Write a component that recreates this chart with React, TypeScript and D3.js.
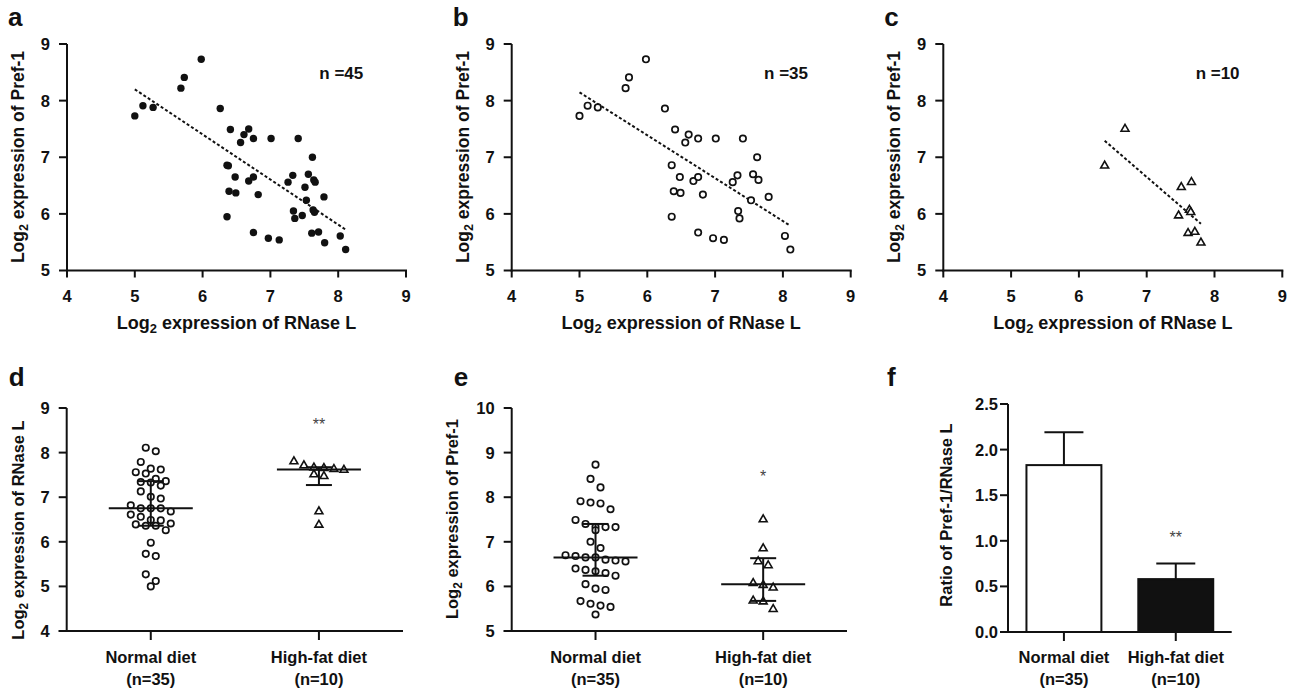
import React from 'react';
import * as d3 from 'd3';

const normRNase = [5.0, 5.12, 5.27, 5.68, 5.73, 5.98, 6.26, 6.41, 6.61, 6.56, 6.75, 7.01, 7.41, 7.62, 6.36, 6.48, 6.68, 6.75, 6.39, 6.49, 6.82, 6.36, 7.33, 7.26, 7.56, 7.64, 7.53, 7.79, 7.34, 7.36, 6.75, 6.97, 7.13, 8.03, 8.11];
const normPref = [7.73, 7.91, 7.88, 8.22, 8.41, 8.73, 7.86, 7.49, 7.40, 7.26, 7.33, 7.33, 7.33, 7.0, 6.86, 6.65, 6.58, 6.65, 6.40, 6.37, 6.34, 5.95, 6.68, 6.56, 6.70, 6.60, 6.24, 6.30, 6.05, 5.92, 5.67, 5.57, 5.54, 5.61, 5.37];
const hfRNase = [6.38, 6.68, 7.51, 7.66, 7.47, 7.63, 7.65, 7.61, 7.71, 7.80];
const hfPref = [6.85, 7.50, 6.47, 6.56, 5.97, 6.07, 6.03, 5.66, 5.68, 5.49];

const groups = ['Normal diet', 'High-fat diet'];
const groupN = ['(n=35)', '(n=10)'];
const ratioMean = [1.83, 0.58];
const ratioErr = [0.36, 0.17];

const scatterXTicks = [4, 5, 6, 7, 8, 9];
const scatterYTicks = [5, 6, 7, 8, 9];
const dTicks = [4, 5, 6, 7, 8, 9];
const eTicks = [5, 6, 7, 8, 9, 10];
const fTicks = [0, 0.5, 1.0, 1.5, 2.0, 2.5];
const sigText = ['**', '*', '**'];
const sigValue = [8.7, 8.55, 1.07];

const FONT = 'Liberation Sans, Arial, Helvetica, sans-serif';
const INK = '#111';

type Pt = { x: number; y: number };

function zipPts(xs: number[], ys: number[]): Pt[] {
  return xs.map((x, i) => ({ x, y: ys[i] }));
}

// quartiles the way Prism does them: position (n+1)p
function prismQ(vals: number[], p: number) {
  const s = [...vals].sort((a, b) => a - b);
  const n = s.length;
  const h = (n + 1) * p;
  if (h <= 1) return s[0];
  if (h >= n) return s[n - 1];
  const lo = Math.floor(h);
  return s[lo - 1] + (h - lo) * (s[lo] - s[lo - 1]);
}

function fitLine(pts: Pt[]) {
  const mx = d3.mean(pts, (d) => d.x)!;
  const my = d3.mean(pts, (d) => d.y)!;
  const sxy = d3.sum(pts, (d) => (d.x - mx) * (d.y - my));
  const sxx = d3.sum(pts, (d) => (d.x - mx) * (d.x - mx));
  const b = sxy / sxx;
  const [x0, x1] = d3.extent(pts, (d) => d.x) as [number, number];
  return [
    { x: x0, y: my + b * (x0 - mx) },
    { x: x1, y: my + b * (x1 - mx) },
  ];
}

// simple row layout like a column scatter: close values share a row
function swarm(vals: number[], y: (v: number) => number, cx: number, rowPx = 9, step = 10) {
  const sorted = vals.map((v, i) => ({ v, i })).sort((a, b) => b.v - a.v);
  const rows: { v: number; i: number }[][] = [];
  sorted.forEach((d) => {
    const row = rows[rows.length - 1];
    if (row && Math.abs(y(d.v) - y(row[0].v)) < rowPx) row.push(d);
    else rows.push([d]);
  });
  const out: { x: number; y: number }[] = [];
  rows.forEach((row) => {
    row.forEach((d, k) => {
      out.push({ x: cx + (k - (row.length - 1) / 2) * step, y: y(d.v) });
    });
  });
  return out;
}

const triPath = d3.symbol(d3.symbolTriangle, 27)()!;

function Marker({ kind, x, y }: { kind: string; x: number; y: number }) {
  if (kind === 'dot') return <circle cx={x} cy={y} r={3.7} fill={INK} />;
  if (kind === 'ring') return <circle cx={x} cy={y} r={3.2} fill="white" stroke={INK} strokeWidth={1.7} />;
  return <path d={triPath} transform={`translate(${x},${y})`} fill="white" stroke={INK} strokeWidth={1.6} strokeLinejoin="miter" />;
}

function LogTitle({ rest }: { rest: string }) {
  return (
    <>
      Log<tspan dy={4} fontSize="0.72em">2</tspan>
      <tspan dy={-4}>{' ' + rest}</tspan>
    </>
  );
}

function YAxis({ x, scale, ticks, fmt, gap }: { x: number; scale: d3.ScaleLinear<number, number>; ticks: number[]; fmt: (v: number) => string; gap: number }) {
  const [lo, hi] = scale.range();
  return (
    <g>
      <line x1={x} x2={x} y1={hi} y2={lo + 1} stroke={INK} strokeWidth={2} />
      {ticks.map((t) => (
        <g key={t}>
          <line x1={x - 8} x2={x} y1={scale(t)} y2={scale(t)} stroke={INK} strokeWidth={2} />
          <text x={x - gap} y={scale(t)} dy="0.36em" textAnchor="end" fontSize={16.5} fontWeight="bold" fontFamily={FONT} fill={INK}>
            {fmt(t)}
          </text>
        </g>
      ))}
    </g>
  );
}

function Scatter({ left, label, pts, kind, nText }: { left: number; label: string; pts: Pt[]; kind: string; nText: string }) {
  const x = d3.scaleLinear().domain([4, 9]).range([left, left + 339]);
  const y = d3.scaleLinear().domain([5, 9]).range([270.5, 44]);
  const fit = fitLine(pts);
  const ln = d3.line<Pt>().x((d) => x(d.x)).y((d) => y(d.y));
  return (
    <g>
      <text x={left - 59} y={26} fontSize={26} fontWeight="bold" fontFamily={FONT} fill={INK}>{label}</text>
      <YAxis x={left} scale={y} ticks={scatterYTicks} fmt={(v) => String(v)} gap={17} />
      <line x1={left - 1} x2={left + 340} y1={y(5)} y2={y(5)} stroke={INK} strokeWidth={2} />
      {scatterXTicks.map((t) => (
        <g key={t}>
          <line x1={x(t)} x2={x(t)} y1={y(5)} y2={y(5) + 7} stroke={INK} strokeWidth={2} />
          <text x={x(t)} y={y(5) + 31} textAnchor="middle" fontSize={16.5} fontWeight="bold" fontFamily={FONT} fill={INK}>{t}</text>
        </g>
      ))}
      <text x={left + 169.5} y={329} textAnchor="middle" fontSize={18} fontWeight="bold" fontFamily={FONT} fill={INK}>
        <LogTitle rest="expression of RNase L" />
      </text>
      <text transform={`translate(${left - 43},${157}) rotate(-90)`} textAnchor="middle" fontSize={17.5} fontWeight="bold" fontFamily={FONT} fill={INK}>
        <LogTitle rest="expression of Pref-1" />
      </text>
      <path d={ln(fit)!} stroke={INK} strokeWidth={2} strokeDasharray="3 2.2" fill="none" />
      {pts.map((p, i) => (
        <Marker key={i} kind={kind} x={x(p.x)} y={y(p.y)} />
      ))}
      <text x={x(8.37)} y={y(8.38)} textAnchor="end" fontSize={17} fontWeight="bold" fontFamily={FONT} fill={INK}>{nText}</text>
    </g>
  );
}

function CatAxis({ left, right, base, centers }: { left: number; right: number; base: number; centers: number[] }) {
  return (
    <g>
      <line x1={left - 8} x2={right} y1={base} y2={base} stroke={INK} strokeWidth={2} />
      {centers.map((c, i) => (
        <g key={i}>
          <line x1={c} x2={c} y1={base} y2={base + 9} stroke={INK} strokeWidth={2} />
          <text x={c} y={663} textAnchor="middle" fontSize={16.5} fontWeight="bold" fontFamily={FONT} fill={INK}>{groups[i]}</text>
          <text x={c} y={685} textAnchor="middle" fontSize={16.5} fontWeight="bold" fontFamily={FONT} fill={INK}>{groupN[i]}</text>
        </g>
      ))}
    </g>
  );
}

function Strip({ left, right, label, domain, ticks, gap, series, title, titleDx, titleCy, sigIdx }: {
  left: number; right: number; label: string; domain: [number, number]; ticks: number[]; gap: number;
  series: number[][]; title: React.ReactNode; titleDx: number; titleCy: number; sigIdx: number;
}) {
  const y = d3.scaleLinear().domain(domain).range([631, 408]);
  const x = d3.scalePoint<string>().domain(groups).range([left, right]).padding(0.5);
  const kinds = ['ring', 'tri'];
  return (
    <g>
      <text x={left - 58} y={386} fontSize={26} fontWeight="bold" fontFamily={FONT} fill={INK}>{label}</text>
      <YAxis x={left} scale={y} ticks={ticks} fmt={(v) => String(v)} gap={gap} />
      <CatAxis left={left} right={right} base={y(domain[0])} centers={groups.map((g) => x(g)!)} />
      <text transform={`translate(${left - titleDx},${titleCy}) rotate(-90)`} textAnchor="middle" fontSize={16.5} fontWeight="bold" fontFamily={FONT} fill={INK}>
        {title}
      </text>
      {series.map((vals, gi) => {
        const cx = x(groups[gi])!;
        const med = prismQ(vals, 0.5);
        const q1 = prismQ(vals, 0.25);
        const q3 = prismQ(vals, 0.75);
        return (
          <g key={gi}>
            {swarm(vals, y, cx).map((p, i) => (
              <Marker key={i} kind={kinds[gi]} x={p.x} y={p.y} />
            ))}
            <line x1={cx} x2={cx} y1={y(q1)} y2={y(q3)} stroke={INK} strokeWidth={2} />
            <line x1={cx - 13} x2={cx + 13} y1={y(q1)} y2={y(q1)} stroke={INK} strokeWidth={2} />
            <line x1={cx - 13} x2={cx + 13} y1={y(q3)} y2={y(q3)} stroke={INK} strokeWidth={2} />
            <line x1={cx - 42} x2={cx + 42} y1={y(med)} y2={y(med)} stroke={INK} strokeWidth={2} />
          </g>
        );
      })}
      <text x={x(groups[1])!} y={y(sigValue[sigIdx]) + 9} textAnchor="middle" fontSize={16} fontFamily={FONT} fill="#444">{sigText[sigIdx]}</text>
    </g>
  );
}

function Bars() {
  const left = 1008, right = 1231.7;
  const y = d3.scaleLinear().domain([0, 2.5]).range([632, 404]);
  const x = d3.scaleBand<string>().domain(groups).range([left, right]).paddingInner(0.33).paddingOuter(0.165);
  const fills = ['white', INK];
  return (
    <g>
      <text x={887} y={386} fontSize={26} fontWeight="bold" fontFamily={FONT} fill={INK}>f</text>
      <YAxis x={left} scale={y} ticks={fTicks} fmt={d3.format('.1f')} gap={10} />
      <CatAxis left={left} right={right} base={y(0)} centers={groups.map((g) => x(g)! + x.bandwidth() / 2)} />
      <text transform={`translate(${left - 56},${515}) rotate(-90)`} textAnchor="middle" fontSize={16.5} fontWeight="bold" fontFamily={FONT} fill={INK}>
        Ratio of Pref-1/RNase L
      </text>
      {groups.map((g, i) => {
        const cx = x(g)! + x.bandwidth() / 2;
        return (
          <g key={g}>
            <line x1={cx} x2={cx} y1={y(ratioMean[i])} y2={y(ratioMean[i] + ratioErr[i])} stroke={INK} strokeWidth={2} />
            <line x1={cx - 19.5} x2={cx + 19.5} y1={y(ratioMean[i] + ratioErr[i])} y2={y(ratioMean[i] + ratioErr[i])} stroke={INK} strokeWidth={2} />
            <rect x={x(g)!} y={y(ratioMean[i])} width={x.bandwidth()} height={y(0) - y(ratioMean[i])} fill={fills[i]} stroke={INK} strokeWidth={2} />
          </g>
        );
      })}
      <text x={x(groups[1])! + x.bandwidth() / 2} y={y(sigValue[2]) + 9} textAnchor="middle" fontSize={16} fontFamily={FONT} fill="#444">{sigText[2]}</text>
    </g>
  );
}

export default function App() {
  const normPts = zipPts(normRNase, normPref);
  const hfPts = zipPts(hfRNase, hfPref);
  return (
    <svg width={1296} height={689} style={{ position: 'absolute', left: 0, top: 0, background: 'white' }}>
      <rect width={1296} height={689} fill="white" />
      <Scatter left={67} label="a" pts={[...normPts, ...hfPts]} kind="dot" nText="n =45" />
      <Scatter left={511.7} label="b" pts={normPts} kind="ring" nText="n =35" />
      <Scatter left={943.3} label="c" pts={hfPts} kind="tri" nText="n =10" />
      <Strip left={66.7} right={403} label="d" domain={[4, 9]} ticks={dTicks} gap={17} series={[normRNase, hfRNase]}
        title={<LogTitle rest="expression of RNase L" />} titleDx={43} titleCy={530} sigIdx={0} />
      <Strip left={511.7} right={847} label="e" domain={[5, 10]} ticks={eTicks} gap={17} series={[normPref, hfPref]}
        title={<LogTitle rest="expression of Pref-1" />} titleDx={54} titleCy={519} sigIdx={1} />
      <Bars />
    </svg>
  );
}
